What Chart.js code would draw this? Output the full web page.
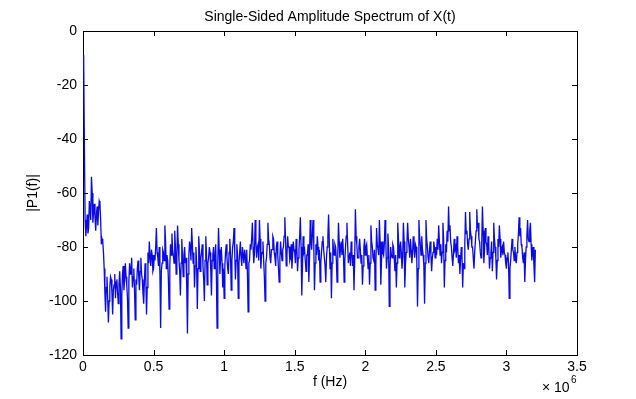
<!DOCTYPE html>
<html>
<head>
<meta charset="utf-8">
<title>Single-Sided Amplitude Spectrum of X(t)</title>
<script src="https://cdn.jsdelivr.net/npm/chart.js@4/dist/chart.umd.min.js"></script>
<style>
  html, body { margin: 0; padding: 0; background: #fff; }
  #wrap { width: 636px; height: 399px; position: relative; }
</style>
</head>
<body>
<div id="wrap"><canvas id="spec"></canvas></div>
<script>
// frequency grid step, in units of 1e6 Hz
const freqStep = 0.005;
// |P1(f)| in dB, one value per freqStep starting at f = 0 (20 values = 0.1e6 Hz per row)
const p1Values = [
  -9, -12, -43, -70, -76, -72, -68, -75, -73, -63, -66, -70, -54, -60, -71, -67, -64, -69, -74, -68,
  -65, -72, -67, -63, -64, -70, -79, -77, -78, -82, -88, -97, -104, -95, -91, -99, -108, -100, -95, -91,
  -92, -97, -105, -96, -94, -90, -99, -93, -92, -97, -101, -94, -89, -95, -114, -98, -90, -87, -96, -92,
  -86, -91, -94, -99, -110, -93, -86, -90, -89, -84, -95, -91, -88, -96, -107, -92, -94, -88, -85, -91,
  -96, -89, -84, -90, -92, -97, -101, -93, -86, -91, -105, -95, -82, -86, -78, -84, -87, -81, -83, -89,
  -88, -83, -85, -80, -73, -82, -84, -87, -80, -90, -110, -89, -86, -81, -82, -85, -72, -78, -88, -83,
  -85, -92, -103, -87, -79, -83, -75, -81, -83, -86, -74, -80, -90, -84, -72, -79, -85, -89, -98, -86,
  -77, -84, -91, -83, -80, -86, -84, -95, -112, -90, -83, -78, -80, -85, -73, -79, -86, -82, -95, -87,
  -80, -86, -103, -88, -76, -81, -89, -84, -82, -79, -87, -92, -100, -85, -76, -83, -94, -86, -84, -80,
  -82, -88, -98, -85, -83, -80, -88, -84, -79, -91, -110, -86, -73, -81, -90, -84, -80, -86, -95, -88,
  -99, -87, -82, -79, -84, -88, -90, -82, -77, -83, -96, -85, -80, -78, -73, -82, -92, -85, -79, -83,
  -99, -86, -82, -78, -84, -87, -80, -83, -86, -81, -83, -88, -81, -90, -104, -86, -85, -79, -81, -77,
  -71, -80, -86, -82, -70, -78, -84, -80, -79, -85, -70, -77, -88, -83, -82, -78, -85, -91, -100, -86,
  -84, -79, -71, -77, -79, -84, -86, -81, -81, -76, -77, -82, -84, -87, -80, -78, -83, -88, -93, -84,
  -78, -82, -85, -81, -80, -76, -69, -77, -87, -83, -76, -80, -80, -85, -84, -79, -88, -83, -78, -81,
  -82, -86, -77, -80, -89, -84, -81, -76, -69, -80, -98, -87, -76, -82, -81, -85, -89, -83, -83, -79,
  -93, -84, -70, -78, -81, -75, -70, -79, -96, -86, -79, -83, -76, -80, -85, -81, -93, -86, -82, -78,
  -76, -81, -84, -87, -93, -84, -80, -76, -68, -78, -88, -82, -99, -86, -77, -81, -83, -79, -80, -85,
  -93, -84, -71, -78, -84, -80, -79, -83, -77, -82, -93, -85, -80, -76, -71, -79, -86, -83, -82, -87,
  -78, -82, -87, -83, -96, -85, -66, -76, -79, -84, -84, -80, -77, -81, -86, -83, -94, -87, -80, -77,
  -83, -80, -79, -84, -88, -83, -94, -86, -72, -78, -80, -84, -85, -81, -96, -87, -73, -79, -79, -83,
  -70, -78, -94, -85, -78, -82, -83, -79, -70, -77, -88, -84, -75, -80, -102, -88, -80, -83, -84, -79,
  -80, -84, -89, -83, -95, -86, -71, -77, -84, -80, -78, -82, -88, -84, -71, -78, -95, -86, -82, -79,
  -71, -77, -80, -84, -77, -81, -86, -82, -76, -80, -84, -79, -80, -85, -102, -88, -70, -76, -79, -83,
  -76, -81, -83, -87, -101, -86, -70, -77, -80, -84, -86, -81, -78, -83, -89, -84, -82, -78, -80, -84,
  -80, -83, -77, -81, -72, -78, -83, -79, -86, -82, -71, -77, -95, -85, -79, -82, -74, -78, -65, -74,
  -72, -78, -80, -84, -87, -82, -77, -81, -80, -84, -76, -80, -86, -83, -90, -85, -80, -83, -95, -86,
  -88, -79, -67, -75, -74, -79, -81, -77, -67, -74, -76, -80, -80, -84, -88, -82, -78, -74, -66, -73,
  -71, -77, -78, -82, -84, -79, -65, -74, -86, -81, -73, -78, -79, -83, -76, -80, -88, -84, -82, -78,
  -89, -82, -71, -77, -80, -84, -92, -85, -77, -80, -72, -77, -84, -81, -80, -83, -78, -82, -83, -86,
  -88, -84, -82, -86, -99, -88, -85, -81, -77, -81, -82, -85, -80, -84, -86, -82, -79, -75, -69, -76,
  -73, -79, -80, -84, -86, -82, -93, -85, -80, -76, -70, -77, -78, -74, -71, -79, -85, -82, -80, -87,
  -93, -81
];
const xTickValues = [0, 0.5, 1, 1.5, 2, 2.5, 3, 3.5];
const yTickValues = [-120, -100, -80, -60, -40, -20, 0];

const titleText = 'Single-Sided Amplitude Spectrum of X(t)';
const xLabel = 'f (Hz)';
const yLabel = '|P1(f)|';
const FONT = '"Liberation Sans", Arial, sans-serif';

const points = p1Values.map((v, i) => ({ x: +(i * freqStep).toFixed(3), y: v }));

// matlab style: box with inward ticks on all four sides, plus the texts
const matlabAxes = {
  id: 'matlabAxes',
  beforeDatasetsDraw(chart) {
    const { ctx, chartArea: a, scales } = chart;
    const len = 5;
    ctx.save();
    ctx.strokeStyle = '#000';
    ctx.lineWidth = 1;
    ctx.strokeRect(a.left + 0.5, a.top + 0.5, a.right - a.left, a.bottom - a.top);
    ctx.beginPath();
    scales.x.ticks.forEach(t => {
      const px = Math.round(scales.x.getPixelForValue(t.value)) + 0.5;
      ctx.moveTo(px, a.bottom); ctx.lineTo(px, a.bottom - len);
      ctx.moveTo(px, a.top); ctx.lineTo(px, a.top + len);
    });
    scales.y.ticks.forEach(t => {
      const py = Math.round(scales.y.getPixelForValue(t.value)) + 0.5;
      ctx.moveTo(a.left, py); ctx.lineTo(a.left + len, py);
      ctx.moveTo(a.right, py); ctx.lineTo(a.right - len, py);
    });
    ctx.stroke();
    ctx.restore();
  },
  afterDraw(chart) {
    const { ctx, chartArea: a } = chart;
    ctx.save();
    ctx.fillStyle = '#000';
    ctx.font = '14px ' + FONT;
    ctx.textAlign = 'center';
    ctx.textBaseline = 'middle';
    const cx = (a.left + a.right) / 2;
    ctx.fillText(titleText, cx, 17);
    ctx.fillText(xLabel, cx, 382);
    ctx.save();
    ctx.translate(33, (a.top + a.bottom) / 2);
    ctx.rotate(-Math.PI / 2);
    ctx.fillText(yLabel, 0, 0);
    ctx.restore();
    ctx.textAlign = 'left';
    ctx.fillText('\u00d7 10', 542, 388);
    ctx.font = '10px ' + FONT;
    ctx.fillText('6', 571, 380);
    ctx.restore();
  }
};

new Chart(document.getElementById('spec'), {
  type: 'line',
  data: {
    datasets: [{
      data: points,
      borderColor: '#0a0ae6',
      borderWidth: 1.3,
      pointRadius: 0,
      tension: 0,
      fill: false
    }]
  },
  options: {
    responsive: true,
    maintainAspectRatio: false,
    animation: false,
    layout: { padding: { top: 31, right: 59, left: 0, bottom: 0 } },
    plugins: { legend: { display: false }, tooltip: { enabled: false } },
    scales: {
      x: {
        type: 'linear',
        min: 0, max: 3.5,
        afterBuildTicks: s => { s.ticks = xTickValues.map(v => ({ value: v })); },
        afterFit: s => { s.height = 44; },
        grid: { display: false, drawTicks: false },
        border: { display: false },
        ticks: {
          color: '#000', font: { family: FONT, size: 14 }, padding: 4, maxRotation: 0, autoSkip: false,
          callback: v => String(+Number(v).toFixed(2))
        }
      },
      y: {
        min: -120, max: 0,
        afterBuildTicks: s => { s.ticks = yTickValues.map(v => ({ value: v })); },
        afterFit: s => { s.width = 83; },
        grid: { display: false, drawTicks: false },
        border: { display: false },
        ticks: {
          color: '#000', font: { family: FONT, size: 14 }, padding: 6, autoSkip: false,
          callback: v => String(v)
        }
      }
    }
  },
  plugins: [matlabAxes]
});
</script>
</body>
</html>
